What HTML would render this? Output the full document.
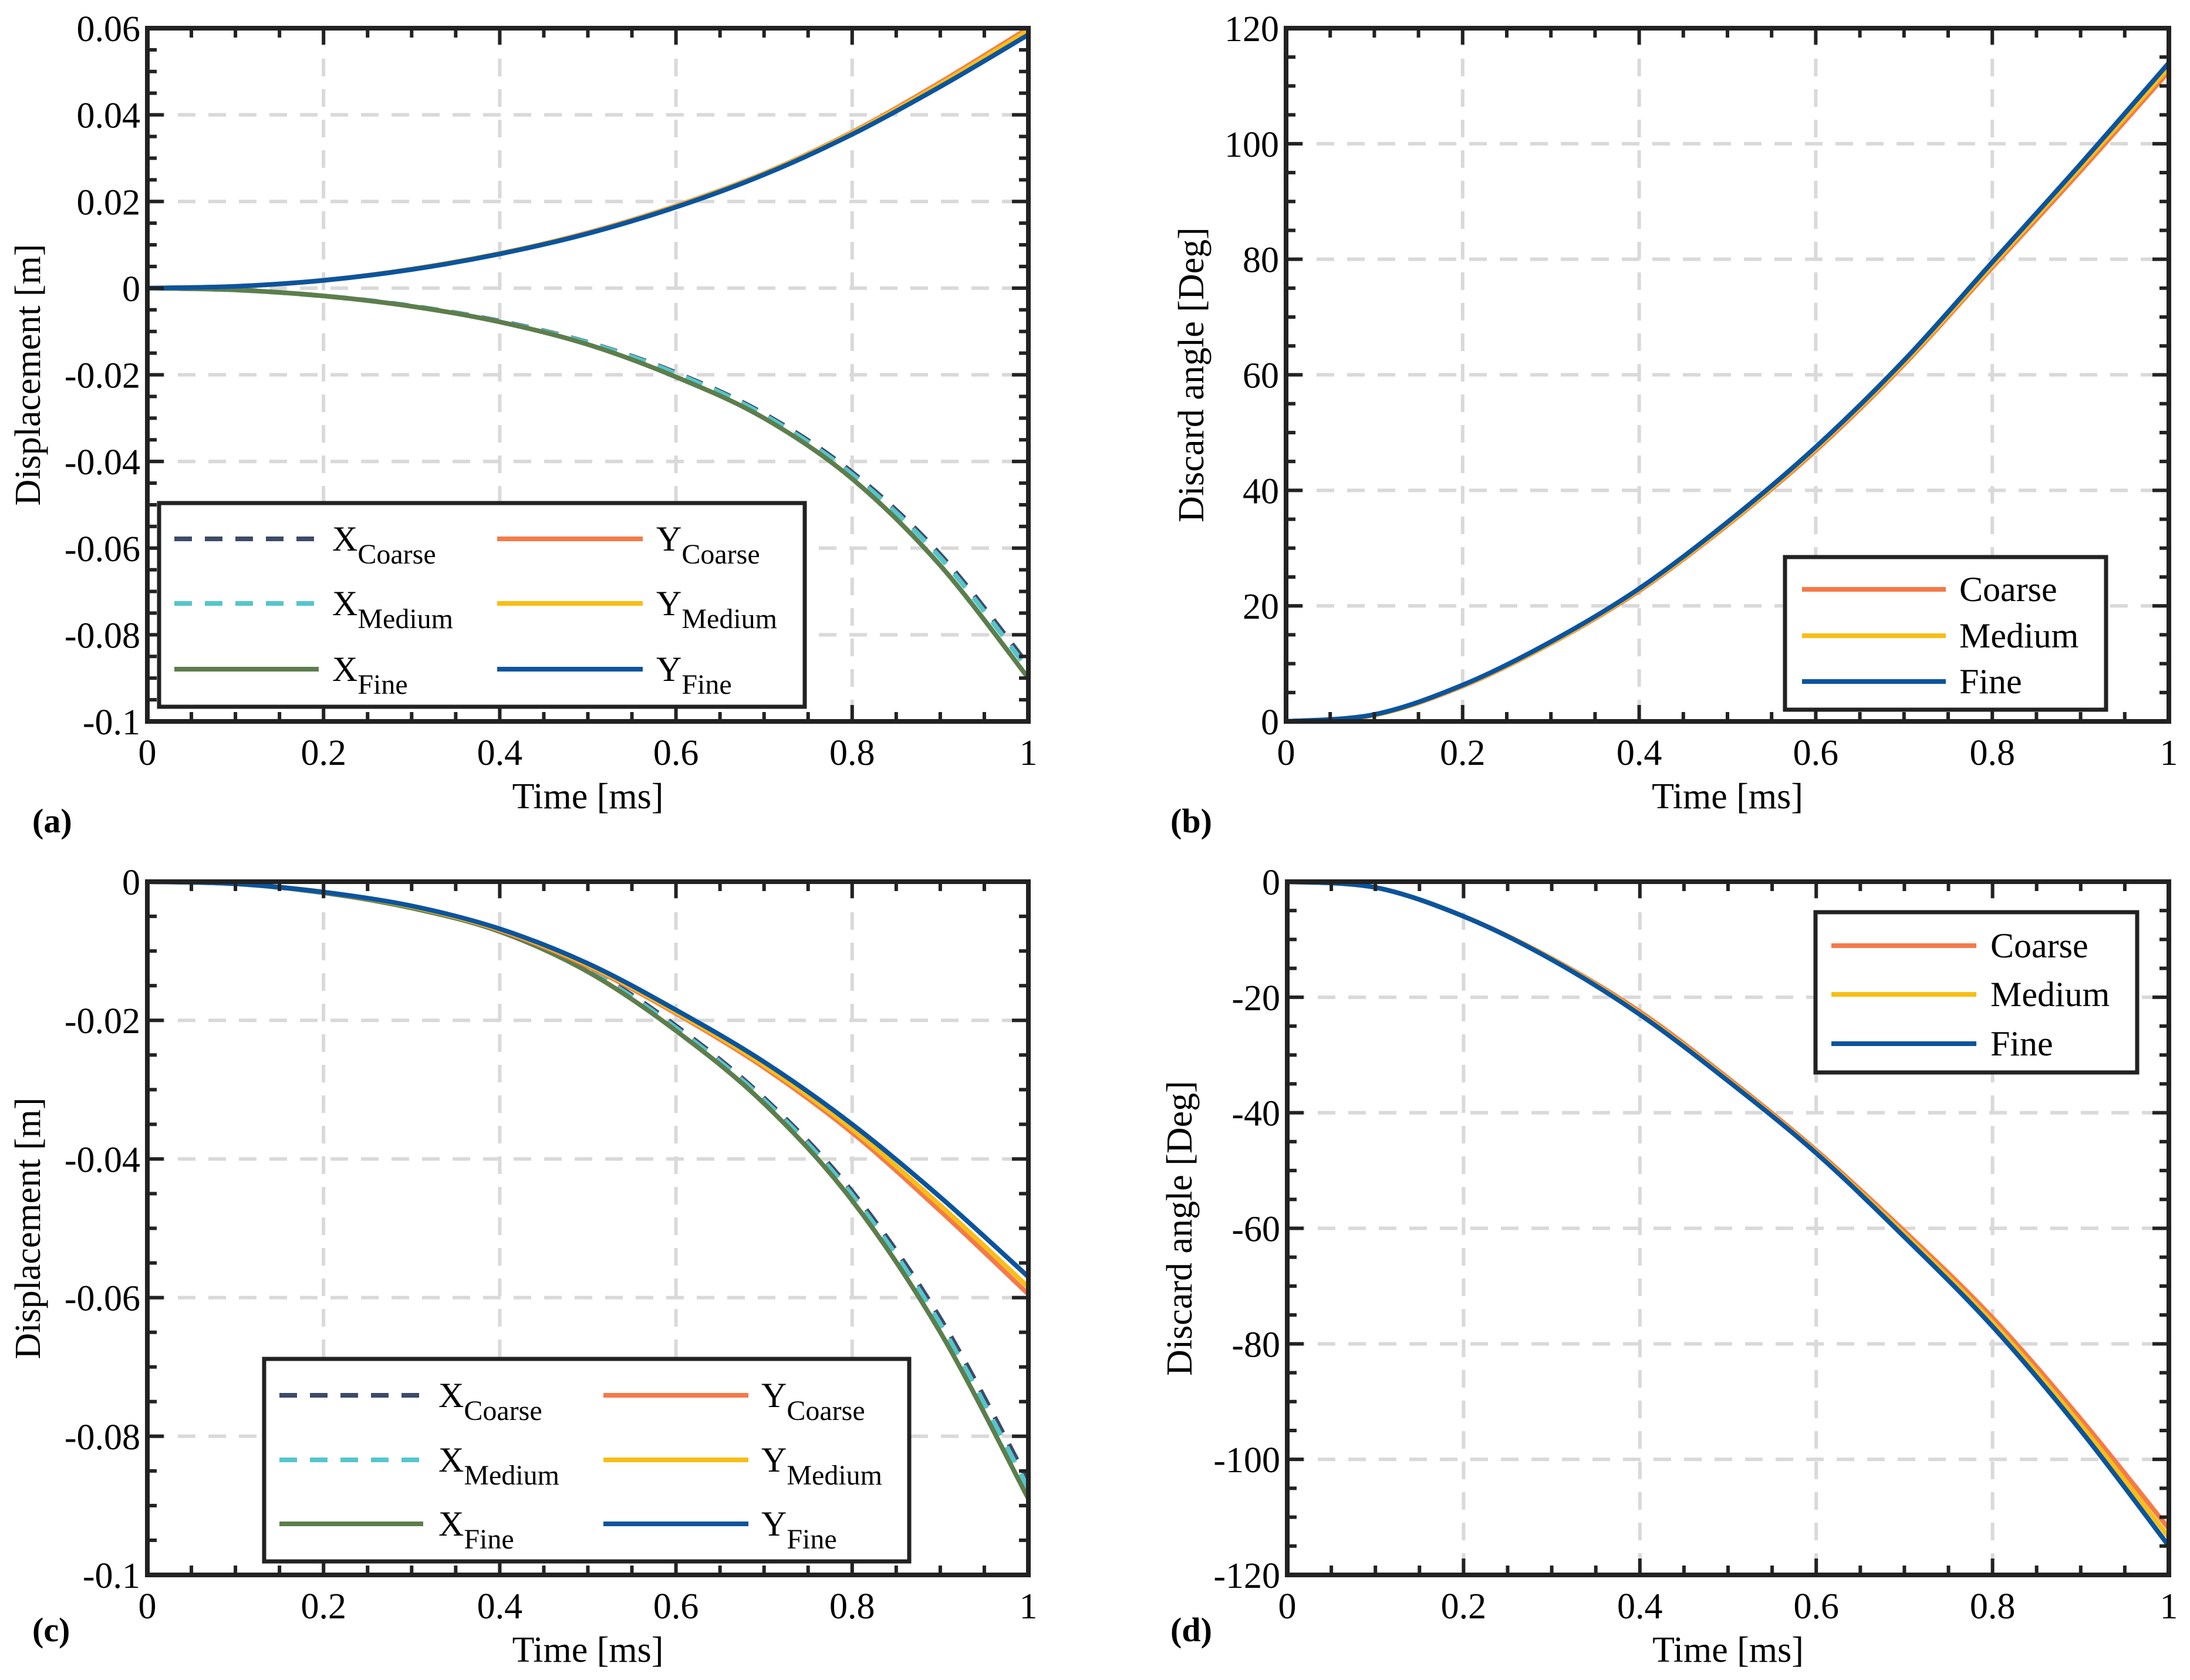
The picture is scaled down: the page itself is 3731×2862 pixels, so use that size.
<!DOCTYPE html>
<html><head><meta charset="utf-8"><style>
html,body{margin:0;padding:0;background:#fff;}
svg{display:block;font-family:"Liberation Serif",serif;}
</style></head><body>
<svg id="fig" width="3731" height="2862" viewBox="0 0 3731 2862" xmlns="http://www.w3.org/2000/svg"></svg>
<script>
const timeMs=[0,0.1,0.2,0.3,0.4,0.5,0.6,0.7,0.8,0.9,1.0];
// Panel a
const aXCoarse=[0,-0.0004,-0.0018,-0.0041,-0.0076,-0.0125,-0.0195,-0.0290,-0.0425,-0.0615,-0.0870];
const aXMedium=[0,-0.0004,-0.0018,-0.0041,-0.0077,-0.0126,-0.0197,-0.0293,-0.0430,-0.0622,-0.0880];
const aXFine=[0,-0.0004,-0.0018,-0.0042,-0.0078,-0.0130,-0.0205,-0.0300,-0.0440,-0.0640,-0.0900];
const aYCoarse=[0,0.0004,0.0018,0.0044,0.0080,0.0128,0.0190,0.0265,0.0360,0.0475,0.0600];
const aYMedium=[0,0.0004,0.0018,0.0044,0.0080,0.0127,0.0189,0.0264,0.0358,0.0471,0.0595];
const aYFine=[0,0.0004,0.0018,0.0043,0.0079,0.0126,0.0187,0.0262,0.0355,0.0465,0.0585];
// Panel b
const bCoarse=[0,1.1,6.1,13.5,22.6,34.0,46.9,61.8,78.6,95.3,112.5];
const bMedium=[0,1.1,6.2,13.6,22.8,34.2,47.2,62.1,79.0,95.9,113.2];
const bFine=[0,1.2,6.3,13.8,23.0,34.5,47.5,62.5,79.5,96.5,114.0];
// Panel c
const cXCoarse=[0,-0.0003,-0.0016,-0.0037,-0.0070,-0.0125,-0.0208,-0.0312,-0.0447,-0.0630,-0.0865];
const cXMedium=[0,-0.0003,-0.0016,-0.0037,-0.0071,-0.0127,-0.0211,-0.0315,-0.0452,-0.0638,-0.0875];
const cXFine=[0,-0.0003,-0.0016,-0.0038,-0.0072,-0.0130,-0.0215,-0.0320,-0.0460,-0.0650,-0.0890];
const cYCoarse=[0,-0.0003,-0.0015,-0.0036,-0.0070,-0.0122,-0.0190,-0.0268,-0.0362,-0.0475,-0.0595];
const cYMedium=[0,-0.0003,-0.0015,-0.0036,-0.0069,-0.0120,-0.0188,-0.0265,-0.0357,-0.0467,-0.0585];
const cYFine=[0,-0.0003,-0.0015,-0.0035,-0.0068,-0.0118,-0.0185,-0.0260,-0.0350,-0.0455,-0.0570];
// Panel d
const dCoarse=[0,-1,-6,-13.3,-22.5,-34.0,-46.5,-60.5,-75.5,-93.0,-112.0];
const dMedium=[0,-1,-6,-13.4,-22.8,-34.3,-46.8,-61.0,-76.3,-94.0,-113.5];
const dFine=[0,-1,-6,-13.5,-23.0,-34.5,-47.0,-61.5,-77.0,-95.0,-115.0];
const xTicks=[0,0.2,0.4,0.6,0.8,1];
const aYTicks=[-0.1,-0.08,-0.06,-0.04,-0.02,0,0.02,0.04,0.06];
const aYTickLabels=["-0.1","-0.08","-0.06","-0.04","-0.02","0","0.02","0.04","0.06"];
const bYTicks=[0,20,40,60,80,100,120];
const cYTicks=[-0.1,-0.08,-0.06,-0.04,-0.02,0];
const cYTickLabels=["-0.1","-0.08","-0.06","-0.04","-0.02","0"];
const dYTicks=[-120,-100,-80,-60,-40,-20,0];
const xTickLabels=["0","0.2","0.4","0.6","0.8","1"];

const NS="http://www.w3.org/2000/svg";
const svg=document.getElementById('fig');
const C={coarse:'#F47A4A',medium:'#F8BE16',fine:'#0B549E',xc:'#3E4A68',xm:'#55C6CB',xf:'#5D7E4C'};
function mk(tag,attrs,parent){const e=document.createElementNS(NS,tag);for(const k in attrs)e.setAttribute(k,attrs[k]);(parent||svg).appendChild(e);return e;}
function smooth(pts){let d='M'+pts[0][0]+','+pts[0][1];for(let i=0;i<pts.length-1;i++){const p0=pts[Math.max(i-1,0)],p1=pts[i],p2=pts[i+1],p3=pts[Math.min(i+2,pts.length-1)];const c1=[p1[0]+(p2[0]-p0[0])/6,p1[1]+(p2[1]-p0[1])/6],c2=[p2[0]-(p3[0]-p1[0])/6,p2[1]-(p3[1]-p1[1])/6];d+=' C'+c1[0]+','+c1[1]+' '+c2[0]+','+c2[1]+' '+p2[0]+','+p2[1];}return d;}

function panel(o){
  const g=mk('g',{});
  
  
  const L=o.L,R=o.R,T=o.T,B=o.B;
  const sx=v=>L+(v-0)/(1-0)*(R-L);
  const sy=v=>B-(v-o.ymin)/(o.ymax-o.ymin)*(B-T);
  xTicks.forEach(v=>{if(v>0&&v<1){const l=mk('line',{x1:sx(v),x2:sx(v),y1:T,y2:B,stroke:'#d9d9d9','stroke-width':6,'stroke-dasharray':'30,22'},g);}});
  o.yt.forEach(v=>{if(v>o.ymin&&v<o.ymax){const l=mk('line',{x1:L,x2:R,y1:sy(v),y2:sy(v),stroke:'#d9d9d9','stroke-width':6,'stroke-dasharray':'30,22'},g);}});
  o.series.forEach(s=>{const p=mk('path',{d:smooth(timeMs.map((t,i)=>[sx(t),sy(s.v[i])])),fill:'none',stroke:s.c,'stroke-width':8,'stroke-dasharray':s.dash||'none','stroke-linejoin':'round'},g);});
  for(let i=0;i<=20;i++){const v=i/20,maj=i%4==0,len=maj?28:16;const x=sx(v);
    mk('line',{x1:x,x2:x,y1:B,y2:B-len,stroke:'#222','stroke-width':6},g);mk('line',{x1:x,x2:x,y1:T,y2:T+len,stroke:'#222','stroke-width':6},g);}
  const ny=o.yminor;for(let v=o.ymin;v<=o.ymax+1e-9;v+=ny){const maj=o.yt.some(t=>Math.abs(t-v)<1e-9),len=maj?28:16;const y=sy(v);
    mk('line',{x1:L,x2:L+len,y1:y,y2:y,stroke:'#222','stroke-width':6},g);mk('line',{x1:R,x2:R-len,y1:y,y2:y,stroke:'#222','stroke-width':6},g);}
  const fr=mk('rect',{x:L,y:T,width:R-L,height:B-T,fill:'none',stroke:'#222','stroke-width':8},g);
  
  xTicks.forEach((v,i)=>{const t=mk('text',{x:sx(v),y:B+74,'font-size':62,'text-anchor':'middle'},g);t.textContent=xTickLabels[i];});
  o.yt.forEach((v,i)=>{const t=mk('text',{x:L-12,y:sy(v)+22,'font-size':62,'text-anchor':'end'},g);t.textContent=o.ytl[i];});
  const xt=mk('text',{x:(L+R)/2,y:B+148,'font-size':62,'text-anchor':'middle'},g);xt.textContent='Time [ms]';
  
  const yl=mk('text',{x:0,y:0,'font-size':62,'text-anchor':'middle',transform:'translate('+o.ylx+','+((T+B)/2)+') rotate(-90)'},g);yl.textContent=o.ylabel;
  
  const pl=mk('text',{x:o.plx,y:o.ply,'font-size':58,'font-weight':'bold'},g);pl.textContent=o.tag;
  
  const lg=o.leg;const lb=mk('g',{},g);
  mk('rect',{x:lg.x,y:lg.y,width:lg.w,height:lg.h,fill:'#fff',stroke:'#222','stroke-width':7},lb);
  lg.items.forEach(it=>{const e=mk('g',{},lb);
    mk('line',{x1:it.x1,x2:it.x2,y1:it.y,y2:it.y,stroke:it.c,'stroke-width':8,'stroke-dasharray':it.dash||'none'},e);
    const t=mk('text',{x:it.tx,y:it.y+20,'font-size':60},e);
    if(it.sub){t.textContent=it.main;const s=mk('tspan',{'font-size':48,dy:22},t);s.textContent=it.sub;}else t.textContent=it.main;});
}
function xyLegend(x,y,w,h,rows,c1,c2){const items=[];const X=[['Coarse',C.xc,'30,22'],['Medium',C.xm,'30,22'],['Fine',C.xf,null]];const Y=[['Coarse',C.coarse],['Medium',C.medium],['Fine',C.fine]];
  for(let i=0;i<3;i++){items.push({x1:c1[0],x2:c1[1],tx:c1[2],y:rows[i],c:X[i][1],dash:X[i][2],main:'X',sub:X[i][0]});items.push({x1:c2[0],x2:c2[1],tx:c2[2],y:rows[i],c:Y[i][1],main:'Y',sub:Y[i][0]});}
  return {x,y,w,h,items};}
function cLegend(x,y,w,h,rows,c1){const N=[['Coarse',C.coarse],['Medium',C.medium],['Fine',C.fine]];return {x,y,w,h,items:N.map((n,i)=>({x1:c1[0],x2:c1[1],tx:c1[2],y:rows[i],c:n[1],main:n[0]}))};}

panel({name:'panel-a',tag:'(a)',L:251,R:1752,T:48,B:1229,ymin:-0.1,ymax:0.06,yminor:0.005,yt:aYTicks,ytl:aYTickLabels,ylabel:'Displacement [m]',ylx:68,plx:55,ply:1418,
  series:[{n:'x-coarse-line',v:aXCoarse,c:C.xc,dash:'30,22'},{n:'x-medium-line',v:aXMedium,c:C.xm,dash:'30,22'},{n:'x-fine-line',v:aXFine,c:C.xf},{n:'y-coarse-line',v:aYCoarse,c:C.coarse},{n:'y-medium-line',v:aYMedium,c:C.medium},{n:'y-fine-line',v:aYFine,c:C.fine}],
  leg:xyLegend(271,857,1100,347,[918,1028,1140],[297,543,566],[847,1095,1118])});
panel({name:'panel-b',tag:'(b)',L:2191,R:3695,T:48,B:1229,ymin:0,ymax:120,yminor:5,yt:bYTicks,ytl:bYTicks.map(String),ylabel:'Discard angle [Deg]',ylx:2050,plx:1994,ply:1418,
  series:[{n:'coarse-line',v:bCoarse,c:C.coarse},{n:'medium-line',v:bMedium,c:C.medium},{n:'fine-line',v:bFine,c:C.fine}],
  leg:cLegend(3041,949,547,260,[1004,1083,1161],[3070,3315,3338])});
panel({name:'panel-c',tag:'(c)',L:251,R:1752,T:1502,B:2683,ymin:-0.1,ymax:0,yminor:0.005,yt:cYTicks,ytl:cYTickLabels,ylabel:'Displacement [m]',ylx:68,plx:55,ply:2796,
  series:[{n:'x-coarse-line',v:cXCoarse,c:C.xc,dash:'30,22'},{n:'x-medium-line',v:cXMedium,c:C.xm,dash:'30,22'},{n:'x-fine-line',v:cXFine,c:C.xf},{n:'y-coarse-line',v:cYCoarse,c:C.coarse},{n:'y-medium-line',v:cYMedium,c:C.medium},{n:'y-fine-line',v:cYFine,c:C.fine}],
  leg:xyLegend(450,2315,1099,345,[2377,2487,2596],[476,721,747],[1028,1275,1297])});
panel({name:'panel-d',tag:'(d)',L:2193,R:3695,T:1502,B:2683,ymin:-120,ymax:0,yminor:5,yt:dYTicks,ytl:dYTicks.map(String),ylabel:'Discard angle [Deg]',ylx:2030,plx:1994,ply:2796,
  series:[{n:'coarse-line',v:dCoarse,c:C.coarse},{n:'medium-line',v:dMedium,c:C.medium},{n:'fine-line',v:dFine,c:C.fine}],
  leg:cLegend(3093,1554,548,273,[1611,1694,1778],[3120,3367,3391])});
</script>
</body></html>
